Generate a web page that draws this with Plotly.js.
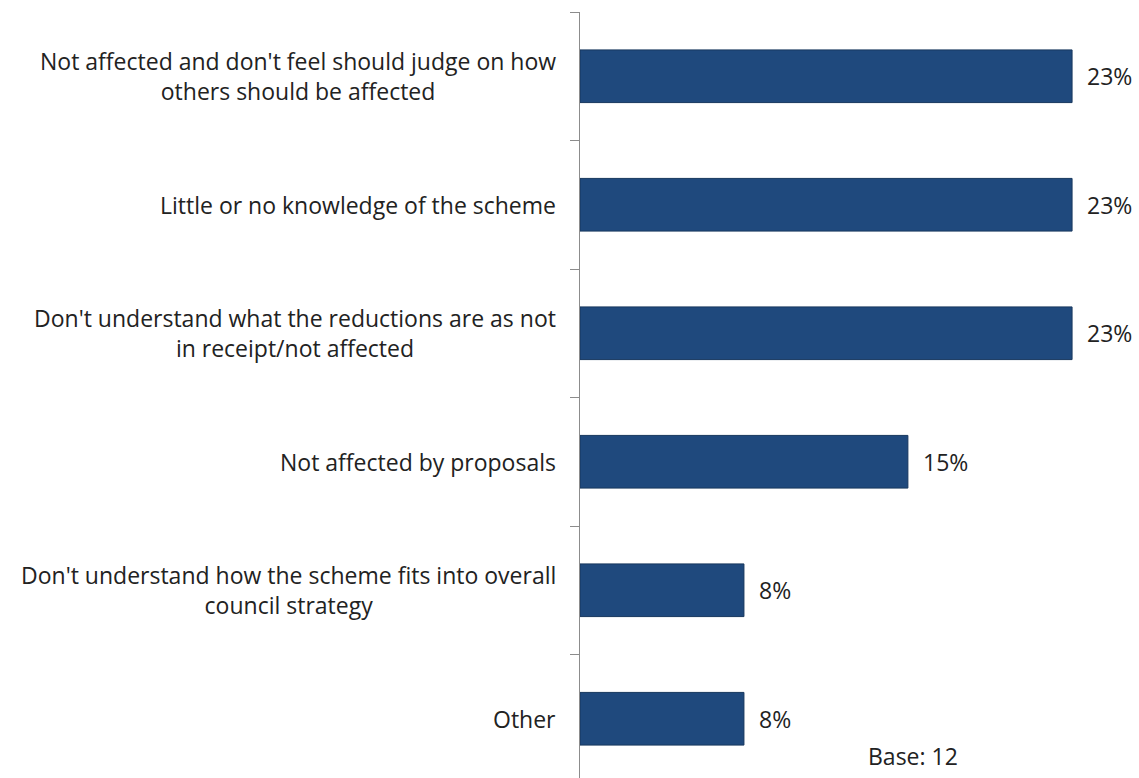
<!DOCTYPE html>
<html>
<head>
<meta charset="utf-8">
<script src="https://cdn.plot.ly/plotly-3.0.1.min.js"></script>
<style>
html,body{margin:0;padding:0;overflow:hidden;background:#fff;}
#chart{width:1139px;height:790px;}
</style>
</head>
<body>
<div id="chart"></div>
<script>
const categories = [
  "Not affected and don't feel should judge on how<br>others should be affected",
  "Little or no knowledge of the scheme",
  "Don't understand what the reductions are as not<br>in receipt/not affected",
  "Not affected by proposals",
  "Don't understand how the scheme fits into overall<br>council strategy",
  "Other"
];
const values = [23.08, 23.08, 23.08, 15.38, 7.69, 7.69];
const baseNote = "Base: 12";

const FONT = "'Open Sans', sans-serif";
const TXT = "#222222";

const annotations = [];
categories.forEach((c, i) => {
  annotations.push({
    xref: 'x', yref: 'y', x: 0, y: c, text: c,
    xanchor: 'right', yanchor: 'middle', align: 'center', xshift: -22,
    showarrow: false, font: {family: FONT, size: 23, color: TXT}
  });
  annotations.push({
    xref: 'x', yref: 'y', x: values[i], y: c, text: Math.round(values[i]) + '%',
    xanchor: 'left', yanchor: 'middle', xshift: 13,
    showarrow: false, font: {family: FONT, size: 23, color: TXT}
  });
});
annotations.push({
  xref: 'paper', yref: 'paper', x: 0.625, y: 0.035, text: baseNote,
  xanchor: 'center', yanchor: 'middle', showarrow: false,
  font: {family: FONT, size: 23, color: TXT}
});

const trace = {
  type: 'bar', orientation: 'h',
  x: values, y: categories,
  marker: {color: '#1F497D', line: {color: '#17375E', width: 1}},
  hoverinfo: 'none'
};

const layout = {
  width: 1139, height: 790,
  margin: {l: 580, r: 26, t: 12, b: 7},
  paper_bgcolor: '#fff', plot_bgcolor: '#fff',
  bargap: 0.59,
  showlegend: false,
  xaxis: {range: [0, 25], visible: false, fixedrange: true},
  yaxis: {
    type: 'category', autorange: 'reversed',
    showline: true, linecolor: '#8c8c8c', linewidth: 1,
    ticks: 'outside', ticklen: 9, tickcolor: '#8c8c8c', tickwidth: 1,
    tickson: 'boundaries', showticklabels: false, showgrid: false, zeroline: false
  },
  annotations: annotations
};

Plotly.newPlot('chart', [trace], layout, {displayModeBar: false, staticPlot: true});
</script>
</body>
</html>
